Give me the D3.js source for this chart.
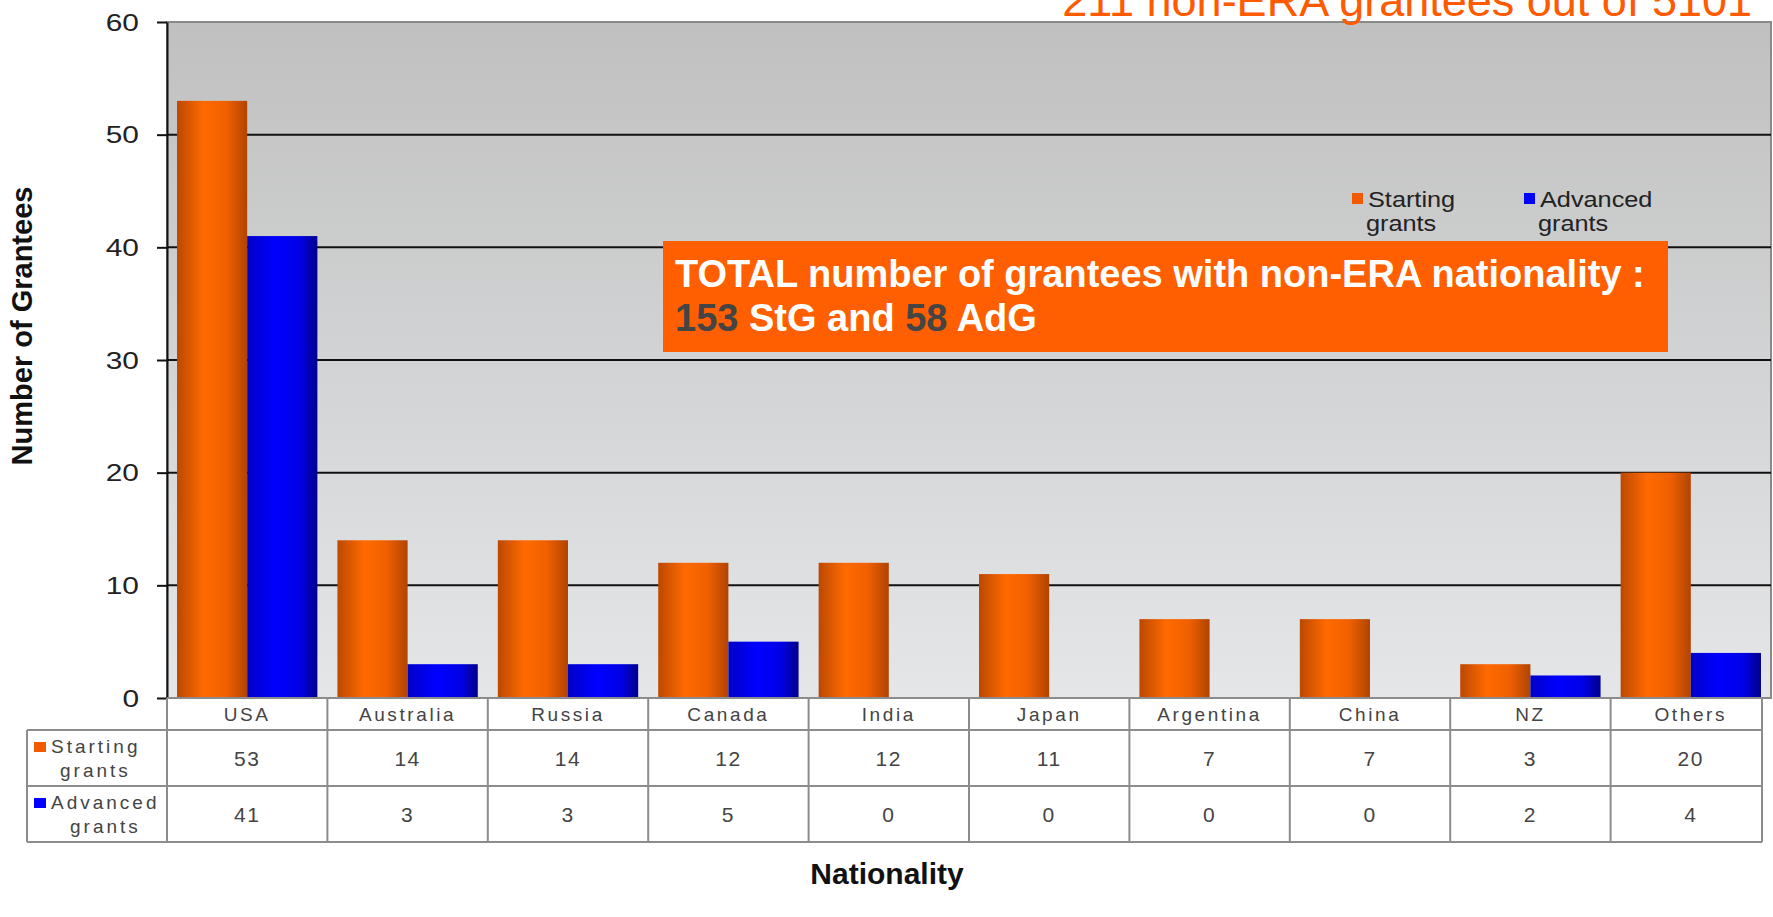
<!DOCTYPE html>
<html>
<head>
<meta charset="utf-8">
<script src="https://cdn.jsdelivr.net/npm/d3@7"></script>
<style>
    body { margin: 0; background: #fff; }
    svg text { font-family: "Liberation Sans", Arial, sans-serif; }
</style>
</head>
<body>
<div id="chart"></div>
<script>
const categories = ['USA', 'Australia', 'Russia', 'Canada', 'India', 'Japan', 'Argentina', 'China', 'NZ', 'Others'];
const startingGrants = [53, 14, 14, 12, 12, 11, 7, 7, 3, 20];
const advancedGrants = [41, 3, 3, 5, 0, 0, 0, 0, 2, 4];
const seriesNames = ['Starting grants', 'Advanced grants'];
const yTicks = [0, 10, 20, 30, 40, 50, 60];

const width = 1773;
const height = 917;
const plotLeft = 167;
const plotRight = 1771;
const plotTop = 22;
const plotBottom = 698;
const tableRight = 1762;
const rowLines = [730, 786, 842];

const svg = d3.select('#chart')
    .append('svg')
    .attr('width', width)
    .attr('height', height);

const defs = svg.append('defs');

const bg = defs.append('linearGradient')
    .attr('id', 'bg-grad')
    .attr('x1', 0).attr('y1', 0).attr('x2', 0).attr('y2', 1);
bg.append('stop').attr('offset', '0%').attr('stop-color', '#c0c0c0');
bg.append('stop').attr('offset', '100%').attr('stop-color', '#e4e6e8');

const orangeGrad = defs.append('linearGradient')
    .attr('id', 'orange-grad')
    .attr('x1', 0).attr('y1', 0).attr('x2', 1).attr('y2', 0);
orangeGrad.append('stop').attr('offset', '0%').attr('stop-color', '#bc4800');
orangeGrad.append('stop').attr('offset', '38%').attr('stop-color', '#ff6a00');
orangeGrad.append('stop').attr('offset', '70%').attr('stop-color', '#f06000');
orangeGrad.append('stop').attr('offset', '100%').attr('stop-color', '#b04400');

const blueGrad = defs.append('linearGradient')
    .attr('id', 'blue-grad')
    .attr('x1', 0).attr('y1', 0).attr('x2', 1).attr('y2', 0);
blueGrad.append('stop').attr('offset', '0%').attr('stop-color', '#0000c8');
blueGrad.append('stop').attr('offset', '40%').attr('stop-color', '#0000ff');
blueGrad.append('stop').attr('offset', '75%').attr('stop-color', '#0000e6');
blueGrad.append('stop').attr('offset', '100%').attr('stop-color', '#00008c');

const fills = ['url(#orange-grad)', 'url(#blue-grad)'];
const swatchColors = ['#f05a00', '#0000ff'];

const xScale = d3.scaleBand()
    .domain(categories)
    .range([plotLeft, plotRight])
    .paddingInner(0.125)
    .paddingOuter(0.0625);

const xSub = d3.scaleBand()
    .domain(seriesNames)
    .range([0, xScale.bandwidth()]);

const yScale = d3.scaleLinear()
    .domain([0, 60])
    .range([plotBottom, plotTop]);

// plot background
svg.append('rect')
    .attr('x', plotLeft)
    .attr('y', plotTop)
    .attr('width', plotRight - plotLeft)
    .attr('height', plotBottom - plotTop)
    .attr('fill', 'url(#bg-grad)')
    .attr('stroke', '#8a8a8a')
    .attr('stroke-width', 2);

// gridlines
svg.append('g')
    .selectAll('line')
    .data(yTicks.filter(t => t > 0 && t < 60))
    .enter()
    .append('line')
    .attr('x1', plotLeft)
    .attr('x2', plotRight)
    .attr('y1', d => yScale(d))
    .attr('y2', d => yScale(d))
    .attr('stroke', '#111')
    .attr('stroke-width', 2);

// bars
const rows = categories.map((c, i) => ({ cat: c, values: [startingGrants[i], advancedGrants[i]] }));

const groups = svg.append('g')
    .selectAll('g')
    .data(rows)
    .enter()
    .append('g')
    .attr('transform', d => `translate(${xScale(d.cat)}, 0)`);

groups.selectAll('rect')
    .data(d => d.values.map((v, j) => ({ series: seriesNames[j], value: v, j })))
    .enter()
    .filter(d => d.value > 0)
    .append('rect')
    .attr('x', d => xSub(d.series))
    .attr('y', d => yScale(d.value))
    .attr('width', xSub.bandwidth())
    .attr('height', d => yScale(0) - yScale(d.value))
    .attr('fill', d => fills[d.j]);

// y axis
const yAxis = d3.axisLeft(yScale)
    .tickValues(yTicks)
    .tickSize(10)
    .tickSizeOuter(0);

const yAxisG = svg.append('g')
    .attr('transform', `translate(${plotLeft}, 0)`)
    .call(yAxis);

yAxisG.select('.domain').attr('stroke', '#111').attr('stroke-width', 2);
yAxisG.selectAll('.tick line').attr('stroke', '#111').attr('stroke-width', 2);
yAxisG.selectAll('.tick text')
    .attr('x', null)
    .attr('dy', null)
    .attr('transform', 'translate(-28, 8) scale(1.3, 1)')
    .attr('font-size', 23)
    .attr('fill', '#222')
    .style('font-family', '"Liberation Sans", Arial, sans-serif');

// data table
const table = svg.append('g')
    .attr('stroke', '#8c8c8c')
    .attr('stroke-width', 2);

table.selectAll('line.row')
    .data(rowLines)
    .enter()
    .append('line')
    .attr('class', 'row')
    .attr('x1', 27)
    .attr('x2', tableRight)
    .attr('y1', d => d)
    .attr('y2', d => d);

table.append('line')
    .attr('x1', plotLeft).attr('x2', tableRight)
    .attr('y1', plotBottom).attr('y2', plotBottom);

table.selectAll('line.col')
    .data(categories.slice(1))
    .enter()
    .append('line')
    .attr('class', 'col')
    .attr('x1', d => xScale(d) - xScale.step() * xScale.paddingInner() / 2)
    .attr('x2', d => xScale(d) - xScale.step() * xScale.paddingInner() / 2)
    .attr('y1', plotBottom)
    .attr('y2', rowLines[2]);

table.append('line')
    .attr('x1', plotLeft).attr('x2', plotLeft)
    .attr('y1', plotBottom).attr('y2', rowLines[2]);
table.append('line')
    .attr('x1', tableRight).attr('x2', tableRight)
    .attr('y1', plotBottom).attr('y2', rowLines[2]);
table.append('line')
    .attr('x1', 27).attr('x2', 27)
    .attr('y1', rowLines[0]).attr('y2', rowLines[2]);

const cellX = d => xScale(d) + xScale.bandwidth() / 2;

svg.append('g')
    .selectAll('text')
    .data(categories)
    .enter()
    .append('text')
    .attr('x', cellX)
    .attr('y', 721)
    .attr('text-anchor', 'middle')
    .attr('font-size', 19)
    .attr('letter-spacing', 2.6)
    .attr('fill', '#444')
    .text(d => d);

[startingGrants, advancedGrants].forEach((vals, j) => {
    svg.append('g')
        .selectAll('text')
        .data(vals)
        .enter()
        .append('text')
        .attr('x', (d, i) => cellX(categories[i]))
        .attr('y', [766, 822][j])
        .attr('text-anchor', 'middle')
        .attr('font-size', 21)
        .attr('letter-spacing', 1.5)
        .attr('fill', '#444')
        .text(d => d);
});

// row labels in the table
const rowLabels = [['Starting', 'grants'], ['Advanced', 'grants']];
rowLabels.forEach((lines, j) => {
    const top = rowLines[j];
    svg.append('rect')
        .attr('x', 34)
        .attr('y', top + 12)
        .attr('width', 12)
        .attr('height', 10)
        .attr('fill', swatchColors[j]);
    svg.append('text')
        .attr('x', 51)
        .attr('y', top + 23)
        .attr('font-size', 19)
        .attr('letter-spacing', 3)
        .attr('fill', '#444')
        .text(lines[0]);
    svg.append('text')
        .attr('x', j === 0 ? 60 : 70)
        .attr('y', top + 47)
        .attr('font-size', 19)
        .attr('letter-spacing', 3)
        .attr('fill', '#444')
        .text(lines[1]);
});

// legend
const legend = svg.append('g')
    .attr('transform', 'translate(1352, 193)');

seriesNames.forEach((name, j) => {
    const lx = j * 172;
    legend.append('rect')
        .attr('x', lx)
        .attr('y', 0)
        .attr('width', 11)
        .attr('height', 11)
        .attr('fill', swatchColors[j]);
    const words = name.split(' ');
    legend.append('text')
        .attr('transform', `translate(${lx + 16}, 14) scale(1.15, 1)`)
        .attr('font-size', 22)
        .attr('fill', '#222')
        .text(words[0]);
    legend.append('text')
        .attr('transform', `translate(${lx + 14}, 38) scale(1.15, 1)`)
        .attr('font-size', 22)
        .attr('fill', '#222')
        .text(words[1]);
});

// highlighted note
svg.append('rect')
    .attr('x', 663)
    .attr('y', 241)
    .attr('width', 1005)
    .attr('height', 111)
    .attr('fill', '#ff5f00');

const note = svg.append('text')
    .attr('font-size', 38)
    .attr('font-weight', 'bold')
    .attr('fill', '#fff');
note.append('tspan')
    .attr('x', 675)
    .attr('y', 287)
    .text('TOTAL number of grantees with non-ERA nationality :');
const line2 = note.append('tspan').attr('x', 675).attr('y', 331);
line2.append('tspan').attr('fill', '#444').text('153');
line2.append('tspan').text(' StG and ');
line2.append('tspan').attr('fill', '#444').text('58');
line2.append('tspan').text(' AdG');

// title, clipped by the top of the slide
svg.append('text')
    .attr('x', 1752)
    .attr('y', 16)
    .attr('text-anchor', 'end')
    .attr('font-size', 45)
    .attr('fill', '#ff5a00')
    .text('211 non-ERA grantees out of 5101');

// axis titles
svg.append('text')
    .attr('transform', 'translate(32, 326) rotate(-90)')
    .attr('text-anchor', 'middle')
    .attr('font-size', 29)
    .attr('font-weight', 'bold')
    .attr('fill', '#111')
    .text('Number of Grantees');

svg.append('text')
    .attr('x', 887)
    .attr('y', 884)
    .attr('text-anchor', 'middle')
    .attr('font-size', 30)
    .attr('font-weight', 'bold')
    .attr('fill', '#111')
    .text('Nationality');
</script>
</body>
</html>
